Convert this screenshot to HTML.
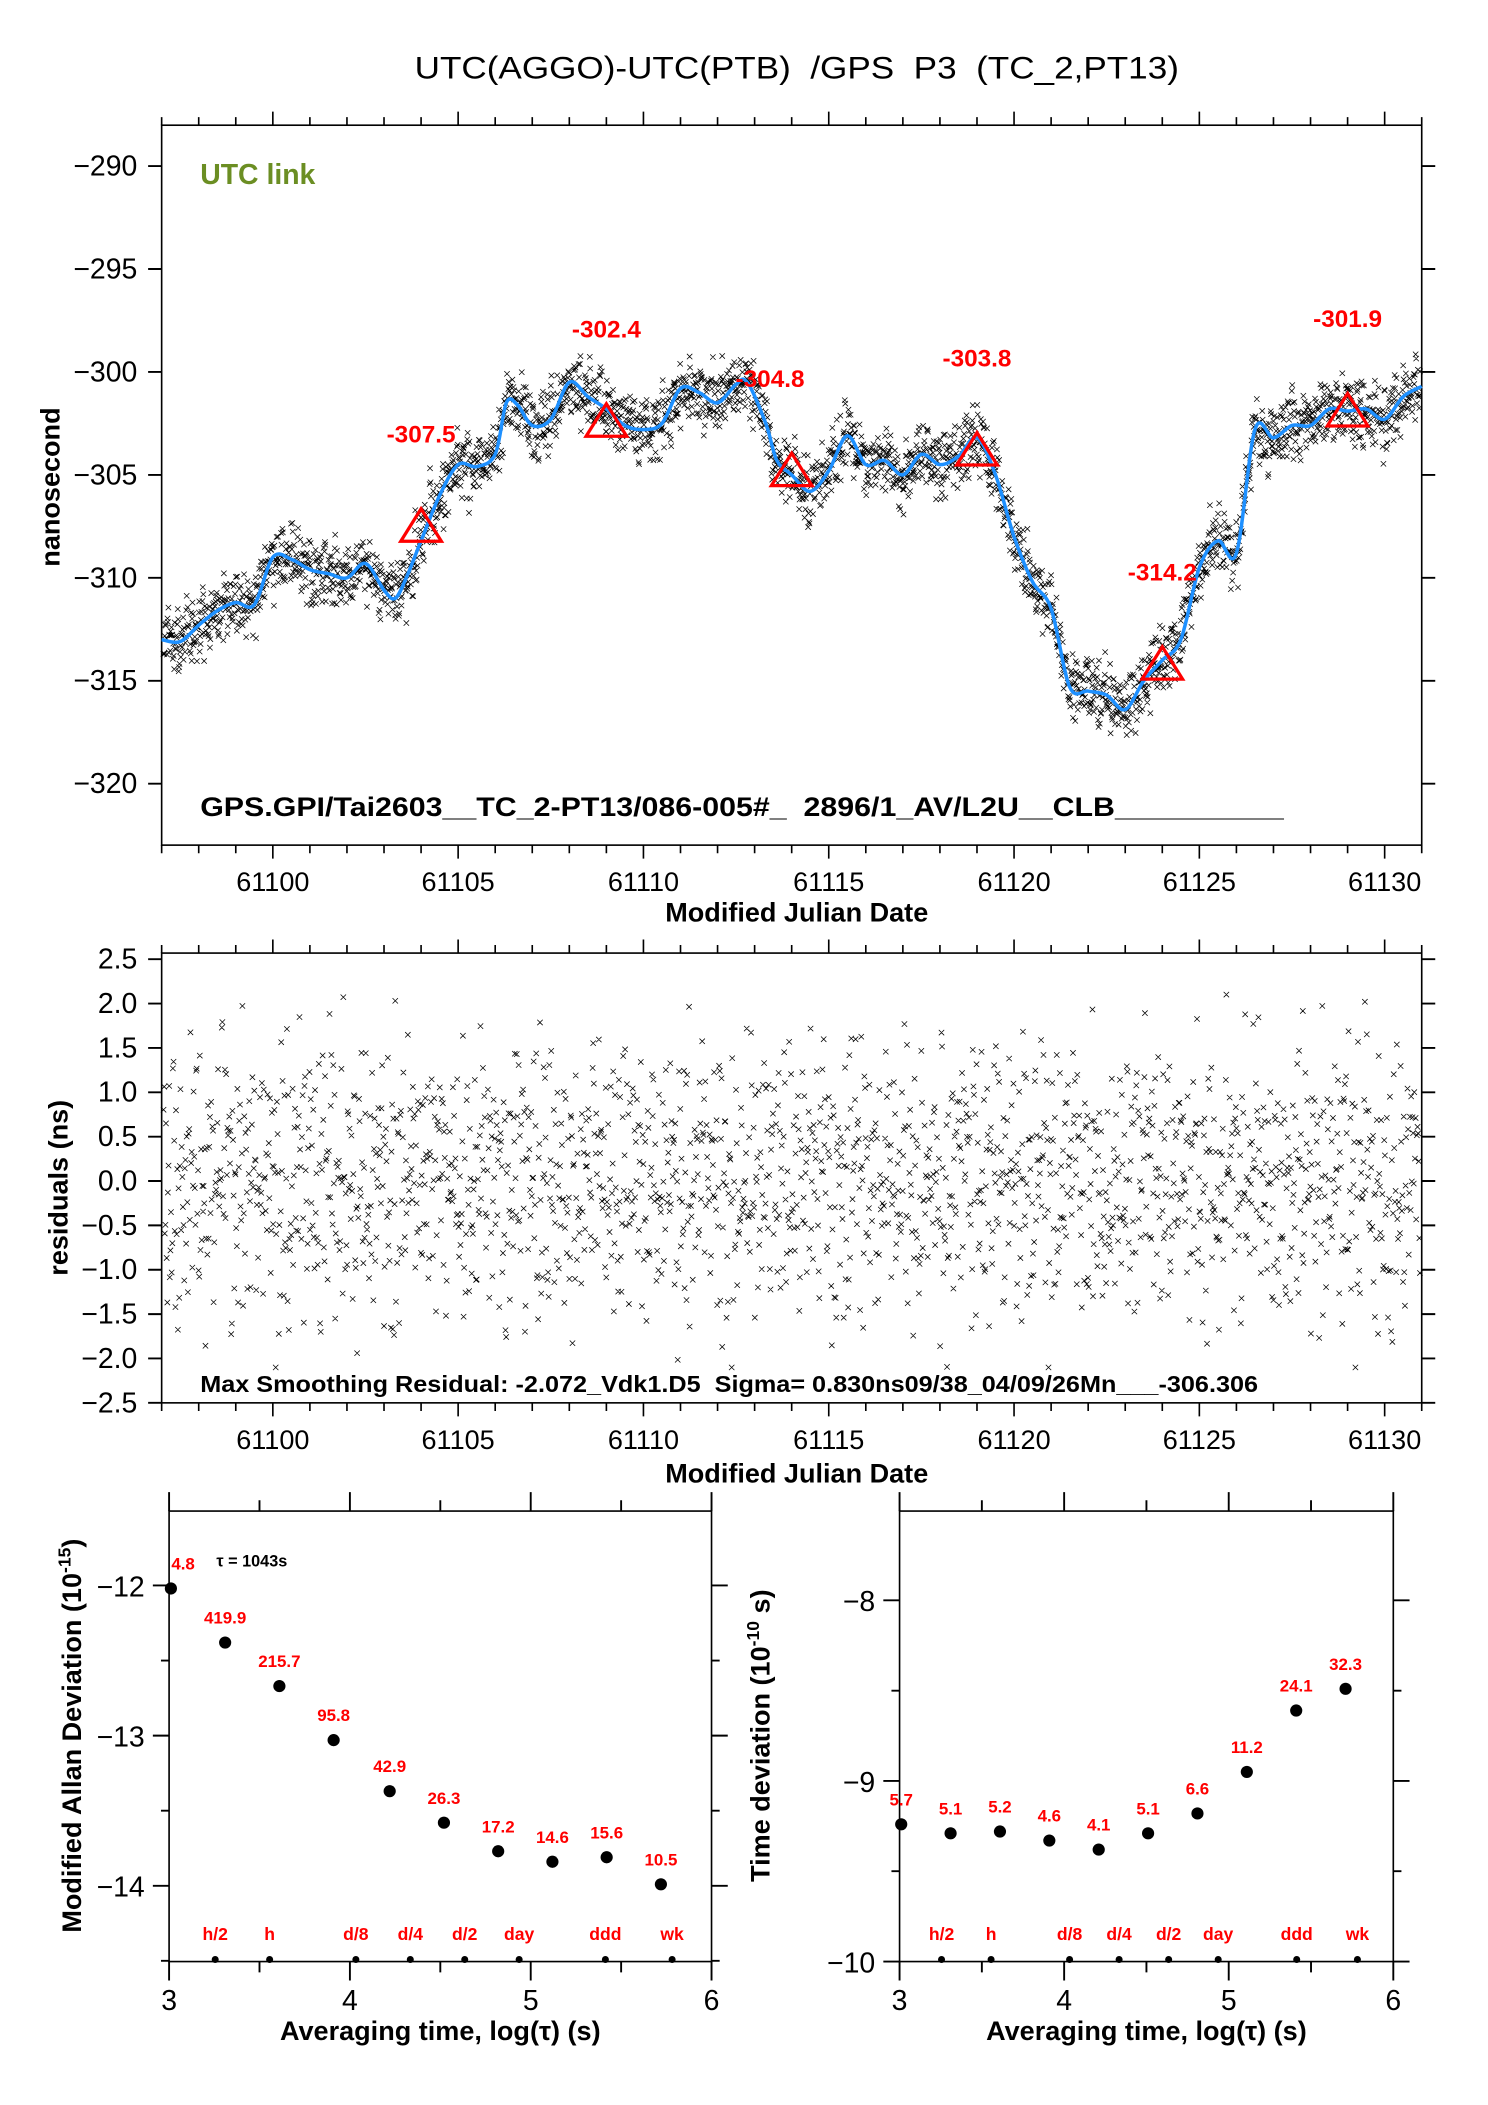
<!DOCTYPE html>
<html><head><meta charset="utf-8"><title>UTC(AGGO)-UTC(PTB)</title>
<style>html,body{margin:0;padding:0;background:#fff}svg{display:block}text{font-family:"Liberation Sans",Arial,sans-serif;white-space:pre}</style>
</head><body>
<svg id="fig" xmlns="http://www.w3.org/2000/svg" width="1488" height="2105" viewBox="0 0 1100 1556">
<rect width="1100" height="1556" fill="#fff"/>
<text x="589" y="58" font-size="23" text-anchor="middle" textLength="565" lengthAdjust="spacingAndGlyphs">UTC(AGGO)-UTC(PTB)  /GPS  P3  (TC_2,PT13)</text>
<g id="top"></g>
<g id="mid"></g>
<g id="bl"></g>
<g id="br"></g>
</svg>
<script>
// ---- data ----
const curveMjd = [61097,61097.5,61098,61098.5,61099,61099.5,61100,61100.5,61101,61101.5,61102,61102.5,61103,61103.3,61103.6,61104,61104.5,61105,61105.5,61106,61106.3,61106.6,61107,61107.5,61108,61108.5,61109,61109.5,61110,61110.5,61111,61111.5,61112,61112.5,61112.8,61113.3,61113.6,61114,61114.5,61115,61115.5,61116,61116.5,61117,61117.5,61118,61118.5,61119,61119.5,61120,61120.5,61121,61121.5,61122,61122.5,61123,61123.5,61124,61124.5,61125,61125.5,61126,61126.5,61127,61127.5,61128,61128.5,61129,61129.5,61130,61130.5,61131];
const curveVal = [-313.0,-313.1,-312.3,-311.6,-311.2,-311.3,-309.0,-309.1,-309.6,-309.8,-310.0,-309.3,-310.6,-311.0,-310.0,-308.2,-306.0,-304.5,-304.6,-304.0,-301.5,-301.6,-302.6,-302.3,-300.5,-301.2,-301.8,-302.6,-302.8,-302.5,-300.8,-301.0,-301.5,-300.6,-300.5,-302.5,-304.3,-305.0,-305.8,-304.8,-303.1,-304.5,-304.3,-305.0,-304.0,-304.5,-304.1,-303.2,-305.0,-308.0,-310.2,-311.5,-315.3,-315.5,-315.7,-316.4,-315.0,-314.0,-313.0,-309.5,-308.2,-308.8,-302.8,-303.2,-302.6,-302.6,-301.8,-301.9,-301.8,-302.3,-301.2,-300.7];
const triMjd = [61104,61109,61114,61119,61124,61129];
const triVal = [-307.5,-302.4,-304.8,-303.8,-314.2,-301.9];
const triLabels = ["-307.5","-302.4","-304.8","-303.8","-314.2","-301.9"];
const residuals = [0.42,-0.81,1.12,-0.23,0.65,-1.44,0.08,0.97,-0.56,-1.02,0.31,1.63,-0.12,-0.74,0.55,-1.85,0.22,1.34,-0.39,0.81,-0.95,0.14,-0.62,1.05,-1.21,0.47,-0.05,1.78,-0.33,-1.58,0.69,0.02,-0.88,1.21,-0.46,0.36,-1.12,0.91,-0.18,-0.67,1.47,-0.29,0.58,-1.33,0.17,0.84,-0.51,-1.96,1.01,0.26,-0.71,0.63,-0.09,1.29,-1.07,0.39,-0.42,1.89,-0.84,0.11,-1.25,0.75,-0.36,0.49,-1.68,1.16,-0.02,0.33,-0.93,0.88,1.52,-0.61,0.19,-1.16,0.71,-0.27,1.38,-0.77,0.05,-0.49,0.96,-1.39,0.28,0.61,-0.15,-1.74,1.09,-0.58,0.44,0.12,-0.98,1.25,-0.31,0.77,-1.29,0.24,-0.69,1.71,-0.44,0.53,-0.07,-1.51,0.86,0.35,-0.82,1.14,-0.21,-0.59,0.67,-1.09,1.42,0.07,-0.38,0.92,-1.62,0.18,0.51,-0.72,1.31,-0.26,-1.19,0.79,0.03,-0.47,1.58,-0.89,0.29,-0.13,-1.36,0.98,0.41,-0.65,1.19,-0.34,-2.07,0.57,0.09,-0.78,1.44,-0.53,0.21,-1.04,0.73,-0.19,1.96,-0.95,0.38,0.01,-1.27,0.62];
const adevX = [3.01,3.31,3.61,3.91,4.22,4.52,4.82,5.12,5.42,5.72];
const adevY = [-12.02,-12.38,-12.67,-13.03,-13.37,-13.58,-13.77,-13.84,-13.81,-13.99];
const adevLabels = ["4.8","419.9","215.7","95.8","42.9","26.3","17.2","14.6","15.6","10.5"];
const tdevX = [3.01,3.31,3.61,3.91,4.21,4.51,4.81,5.11,5.41,5.71];
const tdevY = [-9.24,-9.29,-9.28,-9.33,-9.38,-9.29,-9.18,-8.95,-8.61,-8.49];
const tdevLabels = ["5.7","5.1","5.2","4.6","4.1","5.1","6.6","11.2","24.1","32.3"];
const markX = [3.255,3.556,4.033,4.334,4.635,4.936,5.413,5.782];
const markLabels = ["h/2","h","d/8","d/4","d/2","day","ddd","wk"];
const mjdTicks = [61100,61105,61110,61115,61120,61125,61130];
const topYTicks = [-290,-295,-300,-305,-310,-315,-320];
const midYTicks = [2.5,2.0,1.5,1.0,0.5,0.0,-0.5,-1.0,-1.5,-2.0,-2.5];
const adevYTicks = [-12,-13,-14];
const tdevYTicks = [-8,-9,-10];
const logTicks = [3,4,5,6];

const NS="http://www.w3.org/2000/svg";
function mk(parent,tag,attrs,txt){const e=document.createElementNS(NS,tag);for(const k in attrs)e.setAttribute(k,attrs[k]);if(txt!==undefined)e.textContent=txt;parent.appendChild(e);return e;}
function lin(d0,d1,r0,r1){return v=>r0+(v-d0)*(r1-r0)/(d1-d0);}
function interp(t){let i=0;while(i<curveMjd.length-2&&curveMjd[i+1]<t)i++;const f=(t-curveMjd[i])/(curveMjd[i+1]-curveMjd[i]);return curveVal[i]+f*(curveVal[i+1]-curveVal[i]);}
const fmtMinus=v=>String(v).replace('-','\u2212');
const N=residuals.length;
function resAt(i){const a=residuals[(i*53+Math.floor(i/N)*31)%N];const b=residuals[(i*17+Math.floor(i/(N-7))*13+5)%N];const c=residuals[(i*89+Math.floor(i/(N+11))*47+3)%N];return a*0.7+b*0.4+c*0.3;}

const X = lin(61097,61131,119.5,1051);
// ---- TOP PANEL ----
const gT=document.getElementById('top');
const Yt = lin(-290,-320,122.7,579.3);
const tT=92.5,bT=624.7,L=119.5,R=1051;
let e;
e=mk(gT,'rect',{x:L,y:tT,width:R-L,height:bT-tT,fill:'none',stroke:'#000','stroke-width':1.2});


function xTicks(g,top,bot){let d='';for(let m=61097;m<=61131;m++){const x=X(m);const maj=m%5===0;const len=maj?10:6;d+=`M${x},${top}v${-len}M${x},${bot}v${len}`;}
 const p=mk(g,'path',{d:d,stroke:'#000','stroke-width':1.2,fill:'none'});
 
 
 mjdTicks.forEach(m=>{const t=mk(g,'text',{x:X(m),y:bot+34,'font-size':20,'text-anchor':'middle'},String(m));
 
 });}
xTicks(gT,tT,bT);
let dy='';topYTicks.forEach(v=>{const y=Yt(v);dy+=`M${L},${y}h-10M${R},${y}h10`;
 const t=mk(gT,'text',{x:L-18,y:y+7,'font-size':21,'text-anchor':'end'},fmtMinus(v));
 
 });
e=mk(gT,'path',{d:dy,stroke:'#000','stroke-width':1.4});


let sd='';const dt=1043/86400;
for(let i=0;;i++){const t=61097+i*dt;if(t>61131)break;const r=resAt(i);const x=X(t),y=Yt(interp(t)+r);if(x<L+1||x>R-1)continue;sd+=`M${(x-2).toFixed(1)},${(y-2).toFixed(1)}l4,4m0,-4l-4,4`;}
e=mk(gT,'path',{d:sd,stroke:'#000','stroke-width':0.55,fill:'none'});


const pts=curveMjd.map((m,i)=>[X(m),Yt(curveVal[i])]);
let cd=`M${pts[0][0]},${pts[0][1]}`;
for(let i=0;i<pts.length-1;i++){const p0=pts[Math.max(0,i-1)],p1=pts[i],p2=pts[i+1],p3=pts[Math.min(pts.length-1,i+2)];
 cd+=`C${p1[0]+(p2[0]-p0[0])/6},${p1[1]+(p2[1]-p0[1])/6} ${p2[0]-(p3[0]-p1[0])/6},${p2[1]-(p3[1]-p1[1])/6} ${p2[0]},${p2[1]}`;}
e=mk(gT,'path',{d:cd,stroke:'#1e90ff','stroke-width':2.6,fill:'none'});


triMjd.forEach((m,i)=>{const x=X(m),y=Yt(triVal[i]);
 const p=mk(gT,'polygon',{points:`${x},${y-13} ${x-15},${y+11} ${x+15},${y+11}`,fill:'none',stroke:'#ff0000','stroke-width':2.4});
 
 
 const dx = i===2?-16:0;
 const t=mk(gT,'text',{x:x+dx,y:y-62,'font-size':18,'font-weight':'bold',fill:'#ff0000','text-anchor':'middle'},triLabels[i]);
 
 });
e=mk(gT,'text',{x:148,y:136,'font-size':21,'font-weight':'bold',fill:'#6b8e23'},'UTC link');


e=mk(gT,'text',{x:148,y:603,'font-size':20,'font-weight':'bold',textLength:801,lengthAdjust:'spacingAndGlyphs'},'GPS.GPI/Tai2603__TC_2-PT13/086-005#_  2896/1_AV/L2U__CLB__________');


e=mk(gT,'text',{x:589,y:681,'font-size':20,'font-weight':'bold','text-anchor':'middle'},'Modified Julian Date');


e=mk(gT,'text',{x:0,y:0,'font-size':20,'font-weight':'bold','text-anchor':'middle',transform:'translate(44,360) rotate(-90)'},'nanosecond');



// ---- MIDDLE PANEL ----
const gM=document.getElementById('mid');
const tM=704.5,bM=1037;const Ym=lin(2.5,-2.5,709,1037);
e=mk(gM,'rect',{x:L,y:tM,width:R-L,height:bM-tM,fill:'none',stroke:'#000','stroke-width':1.2});


xTicks(gM,tM,bM);
dy='';midYTicks.forEach(v=>{const y=Ym(v);dy+=`M${L},${y}h-10M${R},${y}h10`;
 const t=mk(gM,'text',{x:L-18,y:y+7,'font-size':21,'text-anchor':'end'},fmtMinus(v.toFixed(1)));
 
 });
e=mk(gM,'path',{d:dy,stroke:'#000','stroke-width':1.4});


let rd='';
for(let i=0;;i++){const t=61097+i*dt*1.4;if(t>61131)break;const r=resAt(i*3+1);const x=X(t),y=Ym(Math.max(-2.1,Math.min(2.1,r)));if(x<L+1||x>R-1)continue;rd+=`M${(x-2).toFixed(1)},${(y-2).toFixed(1)}l4,4m0,-4l-4,4`;}
e=mk(gM,'path',{d:rd,stroke:'#000','stroke-width':0.55,fill:'none'});


e=mk(gM,'text',{x:148,y:1029,'font-size':17,'font-weight':'bold',textLength:782,lengthAdjust:'spacingAndGlyphs'},'Max Smoothing Residual: -2.072_Vdk1.D5  Sigma= 0.830ns09/38_04/09/26Mn___-306.306');


e=mk(gM,'text',{x:589,y:1096,'font-size':20,'font-weight':'bold','text-anchor':'middle'},'Modified Julian Date');


e=mk(gM,'text',{x:0,y:0,'font-size':20,'font-weight':'bold','text-anchor':'middle',transform:'translate(50,878) rotate(-90)'},'residuals (ns)');



// ---- BOTTOM PANELS ----
function stabPanel(g,x0,x1,yfn,yTicks,xs,ys,labels,yTitle,titleX,named,firstShift){
 const tB=1117,bB=1450;const Xl=lin(3,6,x0,x1);
 let f=mk(g,'path',{d:`M${x0},${tB}H${x1}V${bB}H${x0}Z`,fill:'none',stroke:'#000','stroke-width':1.2});
 
 
 let d='';
 for(let v=3;v<=6.001;v+=0.5){const x=Xl(v);const maj=Math.abs(v-Math.round(v))<0.01;const len=maj?14:8;d+=`M${x},${tB}v${-len}M${x},${bB}v${len}`;}
 const yt=[];yTicks.forEach(v=>{yt.push(v);yt.push(v-0.5);});
 yt.forEach((v,k)=>{const y=yfn(v);if(y<tB-0.5||y>bB+0.5)return;const maj=k%2===0;d+=`M${x0},${y}h${maj?-12:-6}M${x1},${y}h${maj?12:6}`;});
 f=mk(g,'path',{d:d,stroke:'#000','stroke-width':1.4,fill:'none'});
 
 
 logTicks.forEach(v=>{const t=mk(g,'text',{x:Xl(v),y:bB+36,'font-size':21,'text-anchor':'middle'},String(v));
  
  });
 yTicks.forEach(v=>{const t=mk(g,'text',{x:x0-18,y:yfn(v)+8,'font-size':21,'text-anchor':'end'},fmtMinus(v));
  
  });
 xs.forEach((v,i)=>{const c=mk(g,'circle',{cx:Xl(v),cy:yfn(ys[i]),r:4.5,fill:'#000'});
  
  
  const t=mk(g,'text',{x:Xl(v)+(i===0?firstShift:0),y:yfn(ys[i])-14,'font-size':12.5,'font-weight':'bold',fill:'#ff0000','text-anchor':'middle'},labels[i]);
  
  });
 markX.forEach((v,i)=>{const c=mk(g,'circle',{cx:Xl(v),cy:bB-1.5,r:2.6,fill:'#000'});
  
  
  const t=mk(g,'text',{x:Xl(v),y:bB-16,'font-size':13,'font-weight':'bold',fill:'#ff0000','text-anchor':'middle'},markLabels[i]);
  
  });
 const tt=mk(g,'text',{x:(x0+x1)/2,y:bB+58,'font-size':20,'font-weight':'bold','text-anchor':'middle'},'Averaging time, log(\u03c4) (s)');
 
 
 const yl=mk(g,'text',{x:0,y:0,'font-size':20,'font-weight':'bold','text-anchor':'middle',transform:`translate(${titleX},1283) rotate(-90)`});
 
 
 yl.innerHTML=yTitle;
}
stabPanel(document.getElementById('bl'),125,526,lin(-12,-13,1172,1283),adevYTicks,adevX,adevY,adevLabels,'Modified Allan Deviation (10<tspan dy="-8" font-size="13">-15</tspan><tspan dy="8">)</tspan>',60,'mdev',9);
stabPanel(document.getElementById('br'),665,1030,lin(-8,-9,1183,1316.5),tdevYTicks,tdevX,tdevY,tdevLabels,'Time deviation (10<tspan dy="-8" font-size="13">-10</tspan><tspan dy="8"> s)</tspan>',569,'tdev',0);
e=mk(document.getElementById('bl'),'text',{x:160,y:1158,'font-size':12,'font-weight':'bold'},'\u03c4 = 1043s');


</script>
</body></html>
